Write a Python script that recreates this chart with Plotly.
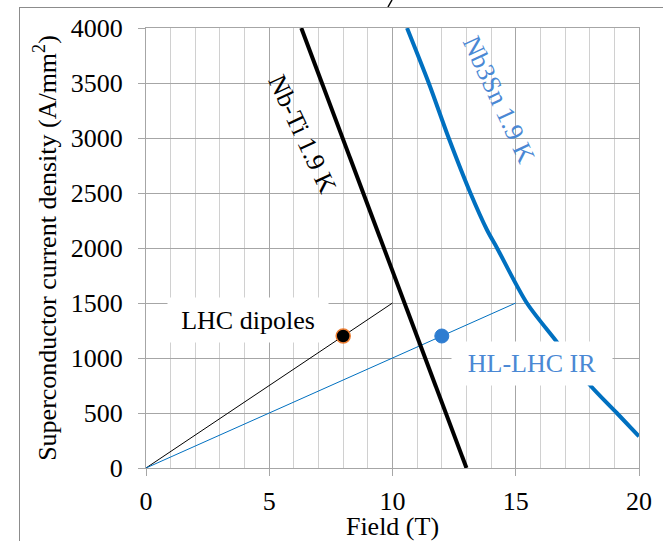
import plotly.graph_objects as go

# ---- data ----
nbti_field = [6.3, 13.0]
nbti_j = [4000, 0]

nb3sn_field = [10.59, 11.47, 12.28, 13.16, 13.83, 14.24, 15.45, 16.65, 18.0, 19.1, 20.0]
nb3sn_j = [4000, 3500, 3000, 2500, 2166, 2000, 1500, 1151, 757, 500, 288]

lhc_load_field = [0, 10]
lhc_load_j = [0, 1500]
lhc_point_field = [8]
lhc_point_j = [1200]

hl_load_field = [0, 15]
hl_load_j = [0, 1500]
hl_point_field = [12]
hl_point_j = [1200]

x_ticks = [0, 5, 10, 15, 20]
y_ticks = [0, 500, 1000, 1500, 2000, 2500, 3000, 3500, 4000]

FONT = "Liberation Serif, Times New Roman, serif"
BLUE = "#0070C0"
LBLUE = "#4A88D4"
MAJ = "#A6A6A6"
MIN = "#D0D0D0"

fig = go.Figure()
fig.add_trace(go.Scatter(x=lhc_load_field, y=lhc_load_j, mode="lines",
                         line=dict(color="black", width=1), hoverinfo="skip"))
fig.add_trace(go.Scatter(x=hl_load_field, y=hl_load_j, mode="lines",
                         line=dict(color=BLUE, width=1), hoverinfo="skip"))
fig.add_trace(go.Scatter(x=nbti_field, y=nbti_j, mode="lines",
                         line=dict(color="black", width=4)))
fig.add_trace(go.Scatter(x=nb3sn_field, y=nb3sn_j, mode="lines",
                         line=dict(color=BLUE, width=4, shape="spline", smoothing=0.8)))
fig.add_trace(go.Scatter(x=lhc_point_field, y=lhc_point_j, mode="markers",
                         marker=dict(color="black", size=14,
                                     line=dict(color="#ED7D31", width=1.5))))
fig.add_trace(go.Scatter(x=hl_point_field, y=hl_point_j, mode="markers",
                         marker=dict(color="#2E7DD1", size=14,
                                     line=dict(color="#2E7DD1", width=1))))

fig.add_annotation(x=4.15, y=1346, text="LHC dipoles", showarrow=False,
                   font=dict(family=FONT, size=26, color="black"),
                   bgcolor="white", width=160, height=44, borderpad=0)
fig.add_annotation(x=15.65, y=950, text="HL-LHC IR", showarrow=False,
                   font=dict(family=FONT, size=26, color=LBLUE),
                   bgcolor="white", width=160, height=43, borderpad=0)
fig.add_annotation(x=6.33, y=3040, text="Nb-Ti 1.9 K", showarrow=False,
                   textangle=65, font=dict(family=FONT, size=26, color="black"))
fig.add_annotation(x=14.3, y=3347, text="Nb3Sn 1.9 K", showarrow=False,
                   textangle=65, font=dict(family=FONT, size=26, color=LBLUE))

# the page's body margin is removed below, so figure pixels equal page pixels
W, H = 663, 541
L, R, T, B = 146, 24, 28, 73
pw, ph = W - L - R, H - T - B

# outer frame (top and left edges visible): an empty bordered box whose
# right and bottom sides fall outside the figure
fig.add_annotation(xref="paper", yref="paper",
                   x=(19 - L) / pw, y=(H - B - 7) / ph,
                   xanchor="left", yanchor="top", text=" ", showarrow=False,
                   width=720, height=600, borderpad=0, borderwidth=1,
                   bordercolor="#8C8C8C", bgcolor="rgba(0,0,0,0)",
                   font=dict(size=2))
# small cut-off stroke above the frame
fig.add_shape(type="line", xref="paper", yref="paper", xsizemode="pixel", ysizemode="pixel",
              xanchor=0, yanchor=1, x0=388 - L, x1=392 - L, y0=T - 7, y1=T,
              line=dict(color="black", width=1.5))

fig.update_layout(
    width=W, height=H, margin=dict(l=L, r=R, t=T, b=B, autoexpand=False),
    paper_bgcolor="white", plot_bgcolor="white", showlegend=False, hovermode=False,
    font=dict(family=FONT, size=26, color="black"),
    xaxis=dict(range=[0, 20], tickvals=x_ticks, ticks="outside", ticklen=7,
               tickcolor=MAJ, showgrid=True, gridcolor=MAJ, gridwidth=1,
               minor=dict(dtick=1, showgrid=True, gridcolor=MIN, gridwidth=1, ticks=""),
               showline=True, linecolor=MAJ, mirror=True, zeroline=False,
               automargin=False, ticklabelstandoff=3,
               title=dict(text="Field (T)", standoff=1,
                          font=dict(family=FONT, size=26)),
               tickfont=dict(family=FONT, size=26)),
    yaxis=dict(range=[0, 4000], tickvals=y_ticks, ticks="outside", ticklen=7,
               tickcolor=MAJ, showgrid=True, gridcolor=MAJ, gridwidth=1,
               showline=True, linecolor=MAJ, mirror=True, zeroline=False,
               automargin=False, ticklabelstandoff=10,
               title=dict(text="Superconductor current density (A/mm<sup>2</sup>)",
                          standoff=6, font=dict(family=FONT, size=26)),
               tickfont=dict(family=FONT, size=26)),
)

fig.write_html("out.html", config={"displayModeBar": False},
               post_script="document.body.style.margin='0';document.documentElement.style.margin='0';")
